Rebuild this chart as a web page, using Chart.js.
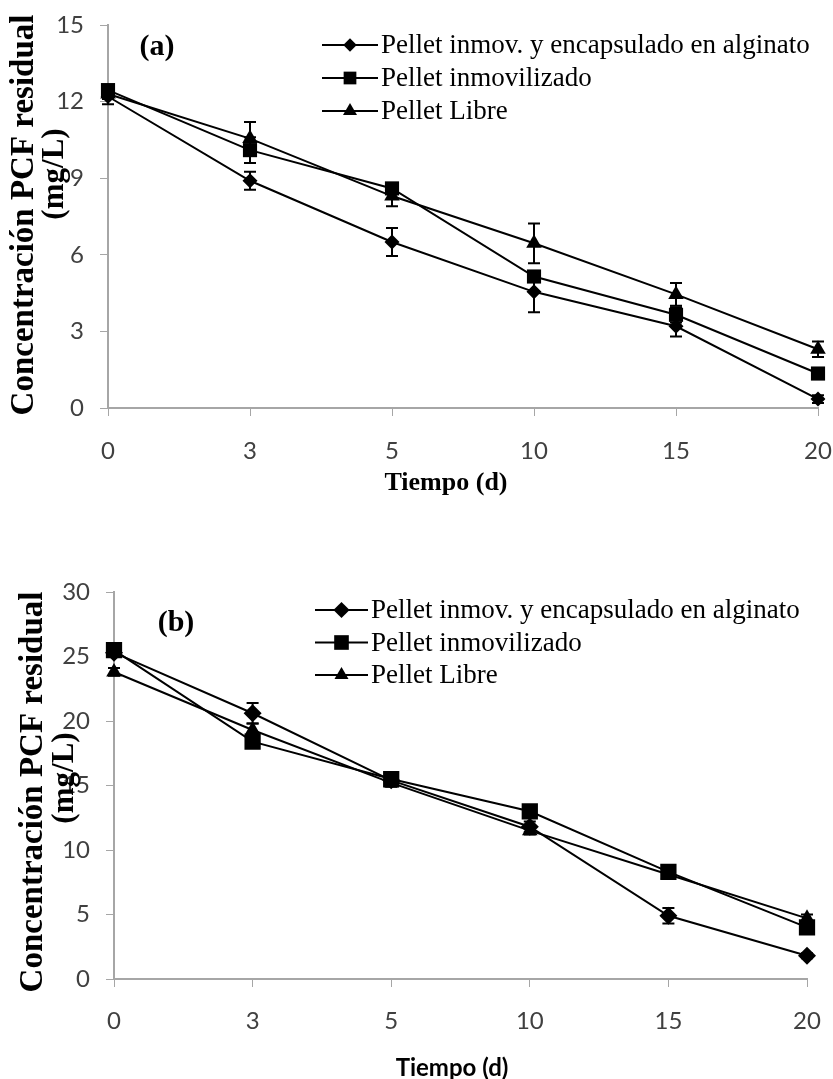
<!DOCTYPE html>
<html>
<head>
<meta charset="utf-8">
<script src="https://cdn.jsdelivr.net/npm/chart.js"></script>
<style>
  body { margin: 0; background: #fff; }
  canvas { display: block; }
</style>
</head>
<body>
<canvas id="chartA" width="833" height="520"></canvas>
<canvas id="chartB" width="833" height="559"></canvas>
<script>
const dias = ['0', '3', '5', '10', '15', '20'];
const nombres = ['Pellet inmov. y encapsulado en alginato', 'Pellet inmovilizado', 'Pellet Libre'];
const marcadores = ['rectRot', 'rect', 'triangle'];

// Grafico (a)
const ticksA = [0, 3, 6, 9, 12, 15];
const aEncapsulado = [12.2, 8.9, 6.5, 4.55, 3.2, 0.35];
const aInmovilizado = [12.45, 10.1, 8.6, 5.15, 3.65, 1.35];
const aLibre = [12.3, 10.55, 8.3, 6.45, 4.45, 2.3];
const aErrEncapsulado = [0.3, 0.35, 0.55, 0.8, 0.4, 0.15];
const aErrInmovilizado = [0.2, 0.5, 0.2, 0.2, 0.3, 0.1];
const aErrLibre = [0.2, 0.65, 0.4, 0.78, 0.45, 0.3];

// Grafico (b)
const ticksB = [0, 5, 10, 15, 20, 25, 30];
const bEncapsulado = [25.3, 20.6, 15.4, 11.8, 4.9, 1.8];
const bInmovilizado = [25.5, 18.4, 15.5, 13.0, 8.3, 4.0];
const bLibre = [23.8, 19.3, 15.2, 11.5, 8.1, 4.7];
const bErrEncapsulado = [0.3, 0.8, 0.3, 0.4, 0.6, 0.2];
const bErrInmovilizado = [0.3, 0.3, 0.3, 0.3, 0.4, 0.3];
const bErrLibre = [0.3, 0.5, 0.3, 0.3, 0.3, 0.3];

const gris = '#a6a6a6';

function drawMarker(ctx, style, x, y, r) {
  ctx.beginPath();
  if (style === 'rectRot') {
    ctx.moveTo(x, y - r); ctx.lineTo(x + r, y); ctx.lineTo(x, y + r); ctx.lineTo(x - r, y);
  } else if (style === 'rect') {
    const s = r * Math.SQRT1_2;
    ctx.rect(x - s, y - s, 2 * s, 2 * s);
  } else {
    for (let k = 0; k < 3; k++) {
      const a = k * 2 * Math.PI / 3;
      const px = x + Math.sin(a) * r, py = y - Math.cos(a) * r;
      if (k === 0) ctx.moveTo(px, py); else ctx.lineTo(px, py);
    }
  }
  ctx.closePath();
  ctx.fill();
}

const errorBars = {
  id: 'errorBars',
  afterDatasetsDraw(chart, args, options) {
    const { ctx, scales: { y } } = chart;
    ctx.save();
    ctx.strokeStyle = options.color;
    ctx.lineWidth = options.lineWidth;
    chart.data.datasets.forEach((ds, i) => {
      const meta = chart.getDatasetMeta(i);
      meta.data.forEach((pt, j) => {
        const e = ds.errores[j];
        if (!e) return;
        const y0 = y.getPixelForValue(ds.data[j] - e);
        const y1 = y.getPixelForValue(ds.data[j] + e);
        const w = options.cap;
        ctx.beginPath();
        ctx.moveTo(pt.x, y0); ctx.lineTo(pt.x, y1);
        ctx.moveTo(pt.x - w, y0); ctx.lineTo(pt.x + w, y0);
        ctx.moveTo(pt.x - w, y1); ctx.lineTo(pt.x + w, y1);
        ctx.stroke();
      });
    });
    ctx.restore();
  }
};

const leyenda = {
  id: 'leyenda',
  afterDraw(chart, args, options) {
    const { ctx } = chart;
    ctx.save();
    ctx.font = options.font;
    ctx.textBaseline = 'middle';
    ctx.textAlign = 'left';
    chart.data.datasets.forEach((ds, i) => {
      const yy = options.y + i * options.gap;
      ctx.strokeStyle = '#000';
      ctx.fillStyle = '#000';
      ctx.lineWidth = 2;
      ctx.beginPath();
      ctx.moveTo(options.x0, yy); ctx.lineTo(options.x1, yy);
      ctx.stroke();
      drawMarker(ctx, ds.pointStyle, (options.x0 + options.x1) / 2, yy, ds.pointRadius * 0.9);
      ctx.fillText(ds.label, options.x1 + 3, yy + 1);
    });
    ctx.restore();
  }
};

const rotulos = {
  id: 'rotulos',
  afterDraw(chart, args, options) {
    const { ctx } = chart;
    ctx.save();
    ctx.fillStyle = '#000';
    ctx.textAlign = 'center';
    ctx.textBaseline = 'middle';
    options.textos.forEach(t => {
      ctx.save();
      ctx.font = t.font;
      ctx.translate(t.x, t.y);
      if (t.rot) ctx.rotate(-Math.PI / 2);
      ctx.fillText(t.text, 0, 0);
      ctx.restore();
    });
    ctx.restore();
  }
};

function makeDatasets(valores, errores, radios) {
  return valores.map((v, i) => ({
    label: nombres[i],
    data: v,
    errores: errores[i],
    borderColor: '#000',
    backgroundColor: '#000',
    borderWidth: 2,
    pointStyle: marcadores[i],
    pointRadius: radios[i],
    pointBorderWidth: 0,
    tension: 0
  }));
}

function makeScales(ticks, yWidth, xHeight, xPad) {
  return {
    x: {
      type: 'category',
      offset: false,
      grid: { display: true, drawOnChartArea: false, drawTicks: true, tickLength: 8, color: gris },
      border: { display: true, color: gris, width: 2 },
      ticks: { color: '#404040', font: { family: 'Lato', size: 24 }, padding: xPad, maxRotation: 0 },
      afterFit(scale) {
        scale.height = xHeight;
        scale.paddingLeft = 0;
        scale.paddingRight = 0;
      }
    },
    y: {
      min: ticks[0],
      max: ticks[ticks.length - 1],
      grid: { display: true, drawOnChartArea: false, drawTicks: true, tickLength: 8, color: gris },
      border: { display: true, color: gris, width: 2 },
      ticks: { stepSize: ticks[1] - ticks[0], color: '#404040', font: { family: 'Lato', size: 24 }, padding: 16 },
      afterFit(scale) {
        scale.width = yWidth;
        scale.paddingTop = 0;
        scale.paddingBottom = 0;
      }
    }
  };
}

const configA = {
  type: 'line',
  data: {
    labels: dias,
    datasets: makeDatasets([aEncapsulado, aInmovilizado, aLibre],
      [aErrEncapsulado, aErrInmovilizado, aErrLibre], [7.5, 10, 9])
  },
  options: {
    responsive: false,
    animation: false,
    layout: { padding: { left: 0, right: 15, top: 25, bottom: 0 } },
    scales: makeScales(ticksA, 108, 112, 21),
    plugins: {
      legend: { display: false },
      tooltip: { enabled: false },
      errorBars: { color: '#000', lineWidth: 2, cap: 6 },
      leyenda: { x0: 322, x1: 378, y: 45, gap: 33, font: '27px "Liberation Serif"' },
      rotulos: {
        textos: [
          { text: '(a)', x: 157, y: 47, font: 'bold 30px "Liberation Serif"' },
          { text: 'Tiempo (d)', x: 446, y: 483, font: 'bold 26px "Liberation Serif"' },
          { text: 'Concentración PCF residual', x: 24, y: 215, rot: true, font: 'bold 33px "Liberation Serif"' },
          { text: '(mg/L)', x: 55, y: 174, rot: true, font: 'bold 31px "Liberation Serif"' }
        ]
      }
    }
  },
  plugins: [errorBars, leyenda, rotulos]
};

const configB = {
  type: 'line',
  data: {
    labels: dias,
    datasets: makeDatasets([bEncapsulado, bInmovilizado, bLibre],
      [bErrEncapsulado, bErrInmovilizado, bErrLibre], [9, 11.5, 9])
  },
  options: {
    responsive: false,
    animation: false,
    layout: { padding: { left: 0, right: 26, top: 72, bottom: 0 } },
    scales: makeScales(ticksB, 114, 100, 20),
    plugins: {
      legend: { display: false },
      tooltip: { enabled: false },
      errorBars: { color: '#000', lineWidth: 2, cap: 6 },
      leyenda: { x0: 315, x1: 368, y: 90, gap: 32.5, font: '27px "Liberation Serif"' },
      rotulos: {
        textos: [
          { text: '(b)', x: 176, y: 103, font: 'bold 30px "Liberation Serif"' },
          { text: 'Tiempo (d)', x: 452, y: 548, font: 'bold 24px Lato' },
          { text: 'Concentración PCF residual', x: 33, y: 272, rot: true, font: 'bold 33px "Liberation Serif"' },
          { text: '(mg/L)', x: 65, y: 258, rot: true, font: 'bold 31px "Liberation Serif"' }
        ]
      }
    }
  },
  plugins: [errorBars, leyenda, rotulos]
};

const chartA = new Chart(document.getElementById('chartA'), configA);
const chartB = new Chart(document.getElementById('chartB'), configB);
</script>
</body>
</html>
